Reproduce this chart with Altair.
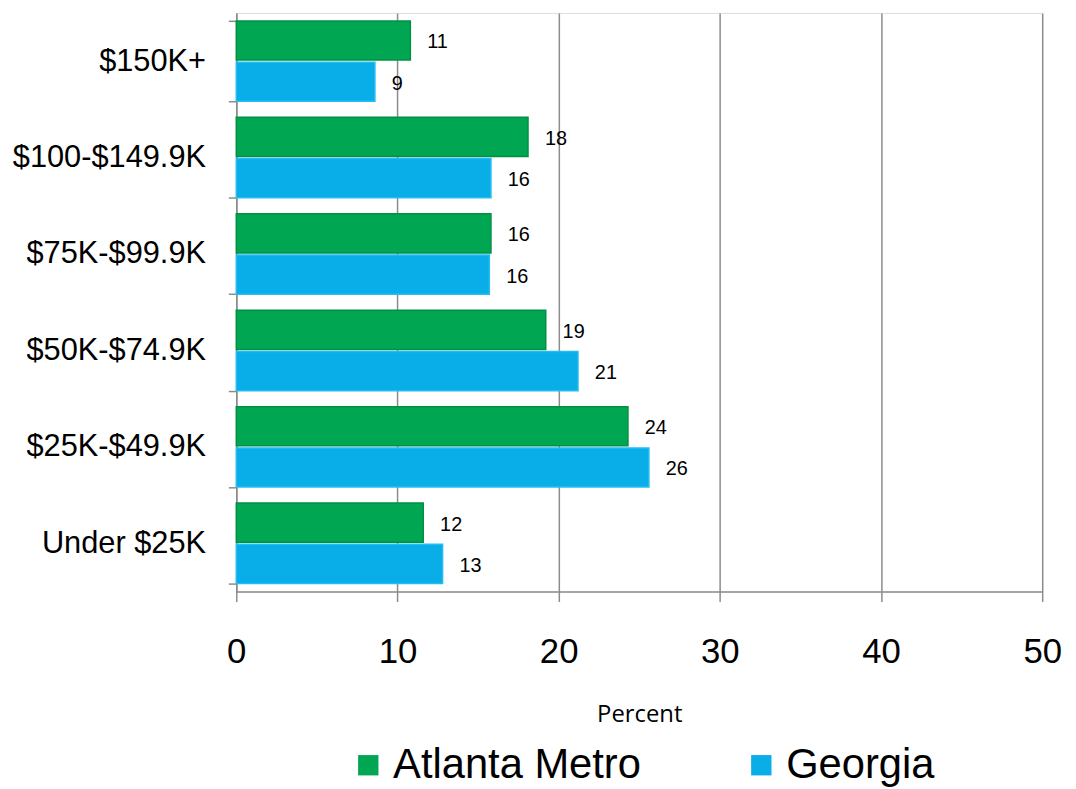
import altair as alt
import pandas as pd

categories = ["$150K+", "$100-$149.9K", "$75K-$99.9K", "$50K-$74.9K", "$25K-$49.9K", "Under $25K"]
series = ["Atlanta Metro", "Georgia"]
atlanta = [10.8, 18.1, 15.8, 19.2, 24.3, 11.6]
georgia = [8.6, 15.8, 15.7, 21.2, 25.6, 12.8]
atlanta_labels = ["11", "18", "16", "19", "24", "12"]
georgia_labels = ["9", "16", "16", "21", "26", "13"]
colors = ["#00A651", "#09ADE8"]
edge_colors = ["#009145", "#23BDF2"]

rows = []
for c, v, l in zip(categories, atlanta, atlanta_labels):
    rows.append({"cat": c, "series": series[0], "value": v, "label": l})
for c, v, l in zip(categories, georgia, georgia_labels):
    rows.append({"cat": c, "series": series[1], "value": v, "label": l})
df = pd.DataFrame(rows)

FONT = "Liberation Sans"

y_enc = alt.Y("cat:N", sort=categories, title=None,
              scale=alt.Scale(paddingInner=0.166, paddingOuter=0.083),
              axis=alt.Axis(tickBand="extent", labelFont=FONT, labelFontSize=31,
                            labelColor="black", labelPadding=23, labelLimit=0,
                            tickSize=8, tickColor="#8c8c8c", domainColor="#8c8c8c",
                            domainWidth=1.5, tickWidth=1.5, grid=False))
yoff = alt.YOffset("series:N", sort=series, scale=alt.Scale(paddingInner=0.05))

x_enc = alt.X("value:Q", title="Percent",
              scale=alt.Scale(domain=[0, 50], nice=False),
              axis=alt.Axis(values=[0, 10, 20, 30, 40, 50], labelFont=FONT,
                            labelFontSize=35, labelColor="black", labelPadding=33,
                            labelFlush=False, labelOverlap=False,
                            tickSize=10, tickColor="#8c8c8c", tickWidth=1.5,
                            domainColor="#8c8c8c", domainWidth=1.5,
                            grid=True, gridColor="#8c8c8c", gridWidth=1.5,
                            titleFont="Open Sans", titleFontSize=24,
                            titleFontWeight="normal", titleColor="black",
                            titlePadding=34))

bars = alt.Chart(df).mark_bar(strokeWidth=1.5).encode(
    x=x_enc,
    y=y_enc,
    yOffset=yoff,
    color=alt.Color("series:N", sort=series, title=None,
                    scale=alt.Scale(domain=series, range=colors),
                    legend=alt.Legend(orient="none", legendX=112, legendY=737,
                                      direction="horizontal", symbolType="square",
                                      symbolSize=420, symbolStrokeWidth=0,
                                      labelFont=FONT, labelFontSize=42,
                                      labelColor="black", labelOffset=4,
                                      labelLimit=0, columnPadding=100)),
    stroke=alt.Stroke("series:N", sort=series, legend=None,
                      scale=alt.Scale(domain=series, range=edge_colors)),
)

labels = alt.Chart(df).mark_text(align="left", baseline="middle", dx=17, dy=2,
                                 font=FONT, fontSize=20, color="black").encode(
    x=alt.X("value:Q"),
    y=alt.Y("cat:N", sort=categories),
    yOffset=alt.YOffset("series:N", sort=series),
    text="label:N",
)

chart = alt.layer(bars, labels).properties(
    width=812, height=583,
    padding={"left": 230, "top": 2, "right": 26, "bottom": 196},
    autosize=alt.AutoSizeParams(type="none"),
).configure_view(stroke=None).configure(background="white")

chart.save("out.html", embed_options={"renderer": "svg", "actions": False})
